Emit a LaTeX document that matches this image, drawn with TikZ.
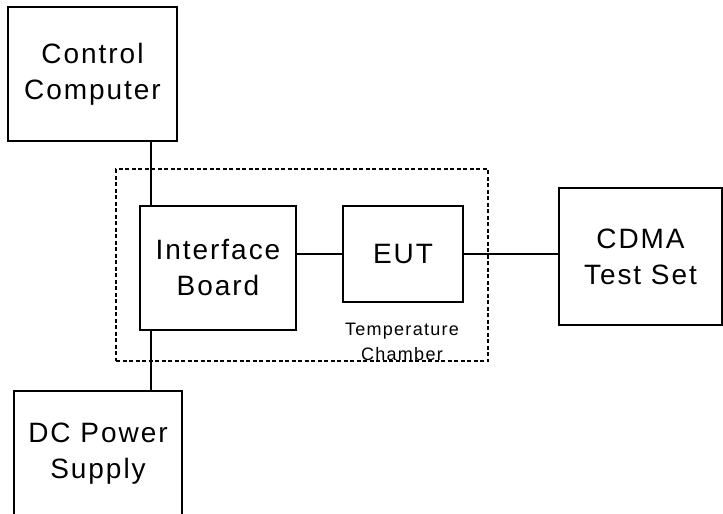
\documentclass[tikz,border=0pt]{standalone}
\usepackage{fontspec}
\setmainfont{Liberation Sans}[LetterSpace=7]
\usepackage{tikz}
\usetikzlibrary{calc}
\tikzset{
	unit/.style={draw, line width=0.55mm, align=center, inner sep=0pt, font=\fontsize{28}{36}\selectfont},
	chamber/.style={draw, line width=0.45mm, dash pattern=on 4pt off 2.5pt, inner sep=0pt},
	wire/.style={line width=0.65mm}
}

\begin{document}
\begin{tikzpicture}[x=1pt, y=-1pt]
		%%%%% START %%%%%
		\useasboundingbox (0, 0) rectangle (723, 514);
		
		\node[chamber, minimum width=372, minimum height=192] (tc) at (302, 265) {};
		\node[align=center, inner sep=0pt, font=\fontsize{18}{25}\selectfont] (tclabel) at (402, 342) {Temperature\\Chamber};
		
		\node[unit, minimum width=169, minimum height=134] (cc) at (92.5, 74) {Control\\Computer};
		\node[unit, minimum width=156, minimum height=124] (ib) at (218, 268) {Interface\\Board};
		\node[unit, minimum width=120, minimum height=96] (eut) at (403, 254) {EUT};
		\node[unit, minimum width=163, minimum height=137] (cdma) at (640.5, 256.5) {CDMA\\Test Set};
		\node[unit, minimum width=168, minimum height=126] (dc) at (98, 454) {DC Power\\Supply};
		
		\coordinate (bus) at ($(ib.north west)+(12, 0)$);
		\draw[wire] (bus) -- (bus |- cc.south);
		\draw[wire] (bus |- ib.south) -- (bus |- dc.north);
		\draw[wire] (eut.west) -- (eut.west -| ib.east);
		\draw[wire] (eut.east) -- (eut.east -| cdma.west);
		%%%%% END %%%%%
\end{tikzpicture}
\end{document}
